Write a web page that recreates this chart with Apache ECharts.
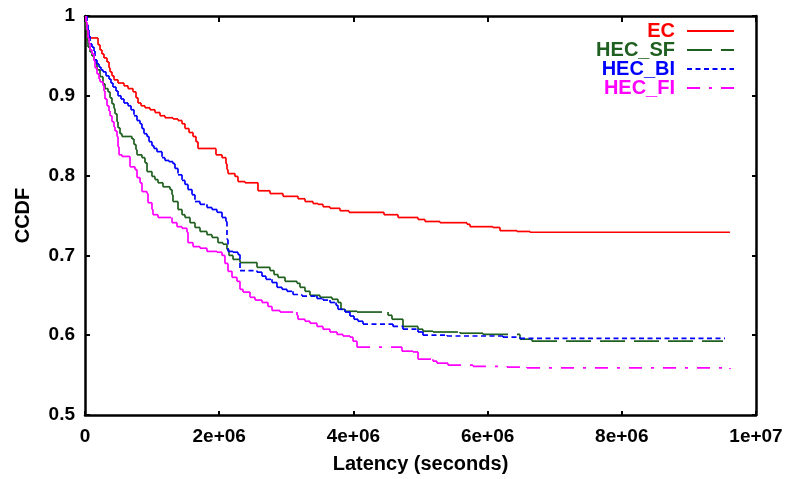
<!DOCTYPE html>
<html>
<head>
<meta charset="utf-8">
<script src="https://cdn.jsdelivr.net/npm/echarts@6/dist/echarts.min.js"></script>
<style>html,body{margin:0;padding:0;background:#fff;}#chart{width:787px;height:479px;}</style>
</head>
<body>
<div id="chart"></div>
<script>
// x values in units of 1e6 seconds, y = CCDF
const seriesNames = ['EC', 'HEC_SF', 'HEC_BI', 'HEC_FI'];
const xTickLabels = ['0', '2e+06', '4e+06', '6e+06', '8e+06', '1e+07'];
const yTickLabels = ['0.5', '0.6', '0.7', '0.8', '0.9', '1'];

const ecData = [[0,1.0],[0.015,0.9875],[0.030,0.9725],[0.194,0.964],[0.224,0.9575],[0.253,0.9525],[0.283,0.9475],[0.328,0.9425],[0.358,0.935],[0.373,0.93],[0.402,0.925],[0.432,0.92],[0.492,0.916],[0.581,0.9125],[0.641,0.909],[0.715,0.905],[0.760,0.8975],[0.790,0.891],[0.835,0.8875],[0.894,0.885],[0.969,0.8825],[1.043,0.879],[1.118,0.875],[1.192,0.8725],[1.311,0.871],[1.386,0.869],[1.446,0.865],[1.490,0.859],[1.550,0.854],[1.610,0.849],[1.654,0.8425],[1.684,0.834],[1.952,0.826],[2.042,0.8225],[2.101,0.815],[2.116,0.8075],[2.131,0.8025],[2.235,0.799],[2.280,0.7925],[2.384,0.791],[2.578,0.781],[2.757,0.7775],[2.951,0.774],[3.174,0.771],[3.279,0.7675],[3.398,0.765],[3.472,0.764],[3.547,0.761],[3.651,0.759],[3.800,0.756],[3.934,0.754],[4.456,0.751],[4.665,0.7475],[4.963,0.745],[5.067,0.7425],[5.291,0.741],[5.693,0.739],[5.738,0.736],[6.080,0.735],[6.185,0.731],[6.438,0.730],[6.632,0.729],[9.612,0.729]];

const sfData = [[0,1.0],[0.015,0.9825],[0.030,0.97],[0.045,0.961],[0.075,0.955],[0.104,0.95],[0.134,0.945],[0.164,0.94],[0.179,0.9325],[0.224,0.924],[0.268,0.915],[0.298,0.909],[0.343,0.905],[0.373,0.8975],[0.402,0.89],[0.432,0.884],[0.447,0.8775],[0.477,0.8675],[0.492,0.86],[0.522,0.8525],[0.551,0.849],[0.700,0.846],[0.730,0.839],[0.760,0.8325],[0.775,0.826],[0.849,0.8225],[0.894,0.816],[0.924,0.805],[0.998,0.799],[1.043,0.795],[1.088,0.791],[1.162,0.786],[1.267,0.7825],[1.297,0.776],[1.311,0.7675],[1.386,0.7575],[1.446,0.751],[1.490,0.7475],[1.565,0.741],[1.639,0.735],[1.714,0.73],[1.818,0.726],[1.893,0.7225],[1.982,0.716],[2.057,0.714],[2.116,0.7075],[2.146,0.70],[2.206,0.695],[2.310,0.691],[2.563,0.685],[2.757,0.681],[2.817,0.676],[2.876,0.6725],[2.981,0.6675],[3.159,0.665],[3.204,0.66],[3.279,0.655],[3.353,0.65],[3.502,0.6475],[3.681,0.645],[3.770,0.641],[3.815,0.6325],[3.875,0.63],[4.054,0.629],[4.516,0.625],[4.575,0.62],[4.739,0.611],[4.963,0.6075],[5.037,0.605],[5.186,0.604],[5.589,0.6025],[5.931,0.601],[6.483,0.595],[6.662,0.5925],[9.508,0.5925]];

const biData = [[0,1.0],[0.030,0.989],[0.045,0.9825],[0.060,0.975],[0.075,0.965],[0.104,0.961],[0.134,0.956],[0.149,0.945],[0.179,0.94],[0.209,0.936],[0.238,0.9325],[0.268,0.93],[0.313,0.925],[0.358,0.921],[0.387,0.916],[0.417,0.911],[0.462,0.906],[0.492,0.90],[0.537,0.896],[0.581,0.891],[0.641,0.8875],[0.686,0.8825],[0.730,0.875],[0.775,0.869],[0.820,0.865],[0.849,0.859],[0.879,0.8525],[0.924,0.849],[0.954,0.8425],[0.998,0.8375],[1.028,0.834],[1.073,0.83],[1.148,0.8225],[1.192,0.819],[1.252,0.8175],[1.311,0.815],[1.341,0.809],[1.386,0.801],[1.446,0.794],[1.490,0.789],[1.535,0.7825],[1.595,0.776],[1.639,0.7675],[1.714,0.764],[1.818,0.76],[1.893,0.7575],[1.967,0.754],[2.042,0.7475],[2.101,0.7425],[2.116,0.72],[2.131,0.705],[2.206,0.704],[2.280,0.701],[2.310,0.681],[2.563,0.679],[2.638,0.674],[2.697,0.67],[2.787,0.666],[2.861,0.66],[2.936,0.6575],[3.010,0.655],[3.100,0.651],[3.234,0.649],[3.457,0.646],[3.547,0.644],[3.651,0.641],[3.741,0.6375],[3.770,0.6325],[3.875,0.629],[3.949,0.624],[4.009,0.62],[4.069,0.6175],[4.143,0.614],[4.590,0.611],[4.739,0.6075],[4.963,0.604],[5.037,0.60],[5.395,0.599],[6.229,0.5975],[6.483,0.596],[9.538,0.596]];

const fiData = [[0,1.0],[0.015,0.9925],[0.030,0.9825],[0.045,0.9725],[0.060,0.966],[0.075,0.9575],[0.104,0.9525],[0.134,0.944],[0.149,0.935],[0.179,0.9275],[0.209,0.921],[0.224,0.9175],[0.268,0.9125],[0.283,0.906],[0.298,0.896],[0.328,0.8875],[0.358,0.881],[0.373,0.875],[0.402,0.8675],[0.432,0.861],[0.447,0.856],[0.477,0.849],[0.492,0.836],[0.507,0.826],[0.551,0.824],[0.671,0.811],[0.745,0.8075],[0.775,0.7975],[0.820,0.791],[0.849,0.78],[0.924,0.7775],[0.939,0.766],[0.998,0.7575],[1.013,0.751],[1.088,0.7475],[1.297,0.741],[1.371,0.736],[1.446,0.734],[1.520,0.729],[1.535,0.716],[1.610,0.711],[1.714,0.709],[1.818,0.705],[1.967,0.704],[2.042,0.70],[2.086,0.69],[2.131,0.68],[2.191,0.6725],[2.265,0.6675],[2.310,0.6575],[2.355,0.654],[2.459,0.6475],[2.534,0.644],[2.638,0.641],[2.727,0.636],[2.787,0.631],[2.906,0.629],[3.159,0.625],[3.174,0.62],[3.279,0.6175],[3.353,0.615],[3.457,0.611],[3.547,0.6075],[3.651,0.604],[3.756,0.601],[3.845,0.599],[3.949,0.5975],[3.994,0.5925],[4.054,0.585],[4.724,0.58],[4.888,0.579],[4.963,0.57],[5.186,0.5675],[5.246,0.565],[5.410,0.5625],[5.782,0.561],[6.289,0.56],[6.587,0.559],[9.612,0.5575]];

const seriesData = [ecData, sfData, biData, fiData];
const colors = ['#ff0000', '#1f5f1f', '#0000ff', '#ff00ff'];
const dashes = [null, [25, 9], [5, 3.5], [13, 9, 3, 9]];
const LW = 1.7;

function makeRender(pts, dash, color) {
  return function (params, api) {
    const i = params.dataIndex;
    if (i >= pts.length - 1) return null;
    const x0 = api.value(0), y0 = api.value(1);
    const a = api.coord([x0, y0]);
    const b = api.coord([pts[i + 1][0], y0]);
    const c = api.coord([pts[i + 1][0], pts[i + 1][1]]);
    const style = { stroke: color, lineWidth: LW, lineDash: dash, fill: null };
    return {
      type: 'group',
      children: [
        { type: 'line', shape: { x1: a[0], y1: a[1], x2: b[0], y2: b[1] }, style: style },
        { type: 'line', shape: { x1: b[0], y1: b[1], x2: c[0], y2: c[1] }, style: style }
      ]
    };
  };
}

const series = [];
// legend carriers (line series, no data)
seriesNames.forEach(function (n, k) {
  series.push({
    name: n, type: 'line', data: [], symbol: 'none', showSymbol: false,
    lineStyle: { color: colors[k], width: LW, type: dashes[k] ? dashes[k] : 'solid' },
    itemStyle: { color: colors[k] }
  });
});
seriesNames.forEach(function (n, k) {
  series.push({
    name: n, type: 'custom', clip: true,
    encode: { x: 0, y: 1 },
    data: seriesData[k],
    renderItem: makeRender(seriesData[k], dashes[k], colors[k]),
    itemStyle: { color: colors[k] },
    silent: true
  });
});

const font = 'Liberation Sans, Arial, sans-serif';
const chart = echarts.init(document.getElementById('chart'), null, { renderer: 'canvas' });
chart.setOption({
  animation: false,
  backgroundColor: '#ffffff',
  grid: { left: 85, right: 31, top: 16, bottom: 63, show: false },
  legend: {
    orient: 'vertical', align: 'right', right: 52, top: 21, padding: 0,
    itemWidth: 47, itemHeight: 14, itemGap: -1,
    itemStyle: { opacity: 0 },
    textStyle: { fontFamily: font, fontWeight: 'bold', fontSize: 20, padding: [0, 7, 0, 0] },
    data: seriesNames.map(function (n, k) {
      return { name: n, textStyle: { color: colors[k] } };
    })
  },
  xAxis: [{
    type: 'value', min: 0, max: 10, interval: 2,
    name: 'Latency (seconds)', nameLocation: 'middle', nameGap: 39,
    nameTextStyle: { fontFamily: font, fontWeight: 'bold', fontSize: 20, color: '#000' },
    axisLine: { show: true, lineStyle: { color: '#000', width: 2.5 } },
    axisTick: { show: true, inside: true, length: 4, lineStyle: { color: '#000', width: 2 } },
    axisLabel: {
      margin: 12, fontFamily: font, fontWeight: 'bold', fontSize: 19, color: '#000',
      formatter: function (v) { return xTickLabels[Math.round(v / 2)]; }
    },
    splitLine: { show: false }
  }, {
    type: 'value', min: 0, max: 10, interval: 2, position: 'top',
    axisLine: { show: true, onZero: false, lineStyle: { color: '#000', width: 2.5 } },
    axisTick: { show: true, inside: true, length: 6, lineStyle: { color: '#000', width: 2 } },
    axisLabel: { show: false }, splitLine: { show: false }
  }],
  yAxis: [{
    type: 'value', min: 0.5, max: 1, interval: 0.1,
    name: 'CCDF', nameLocation: 'middle', nameGap: 52,
    nameTextStyle: { fontFamily: font, fontWeight: 'bold', fontSize: 20, color: '#000' },
    axisLine: { show: true, lineStyle: { color: '#000', width: 2.5 } },
    axisTick: { show: true, inside: true, length: 5, lineStyle: { color: '#000', width: 2 } },
    axisLabel: {
      margin: 10, fontFamily: font, fontWeight: 'bold', fontSize: 19, color: '#000',
      formatter: function (v) { return yTickLabels[Math.round((v - 0.5) * 10)]; }
    },
    splitLine: { show: false }
  }, {
    type: 'value', min: 0.5, max: 1, interval: 0.1, position: 'right',
    axisLine: { show: true, onZero: false, lineStyle: { color: '#000', width: 2.5 } },
    axisTick: { show: true, inside: true, length: 4, lineStyle: { color: '#000', width: 2 } },
    axisLabel: { show: false }, splitLine: { show: false }
  }],
  series: series
});
</script>
</body>
</html>
